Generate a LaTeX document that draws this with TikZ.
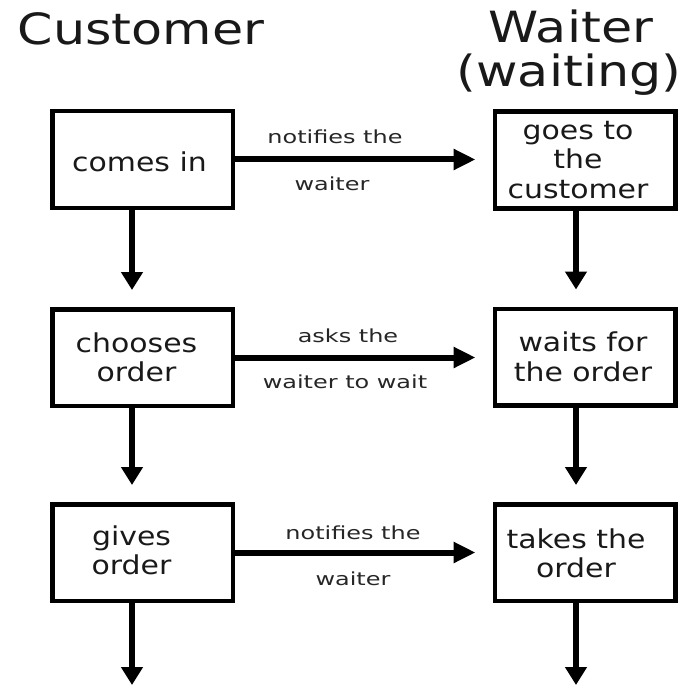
\documentclass[tikz,border=0pt]{standalone}
\usepackage{fontspec}
\setmainfont{DejaVu Sans}
\newfontfamily\titlefont[FakeStretch=1.18]{DejaVu Sans}
\newfontfamily\boxfont[FakeStretch=1.15]{DejaVu Sans}
\newfontfamily\labfont[FakeStretch=1.33]{DejaVu Sans}
\usetikzlibrary{arrows.meta}
\tikzset{
  stepbox/.style={draw=black, line width=4.5pt, minimum width=180.5pt, minimum height=96.5pt,
    inner sep=0pt},
  boxtext/.style={inner sep=0pt, align=center, font=\boxfont\fontsize{26}{29.5}\selectfont, text=black!90},
  titletext/.style={anchor=base, inner sep=0pt, font=\titlefont\fontsize{43}{50}\selectfont, text=black!90},
  labtext/.style={anchor=base, inner sep=0pt, font=\labfont\fontsize{18}{21}\selectfont, text=black!85},
  flowh/.style={line width=6pt, -{Triangle[length=22pt,width=20pt]}, shorten >=17pt},
  flowv/.style={line width=6pt, -{Triangle[length=18pt,width=21pt]}, shorten >=17pt},
}
\begin{document}
\begin{tikzpicture}[x=1pt,y=-1pt]
\useasboundingbox (0,0) rectangle (685,687);
% titles
\node[titletext] (tcust) at (141,45) {Customer};
\node[titletext] (twait) at (571,43) {Waiter};
\node[titletext] (twaiting) at (569,87) {(waiting)};
% boxes
\node[stepbox] (L1) at (142.5,159.5) {};
\node[stepbox] (R1) at (585,160) {};
\node[stepbox] (L2) at (142.5,357.5) {};
\node[stepbox] (R2) at (585,357) {};
\node[stepbox] (L3) at (142.5,552.5) {};
\node[stepbox] (R3) at (585,552.5) {};
% box texts
\node[boxtext] (L1t) at ([xshift=-3pt,yshift=-2pt]L1) {comes in};
\node[boxtext] (R1t) at ([xshift=-7pt]R1) {goes to\\the\\customer};
\node[boxtext] (L2t) at ([xshift=-6pt]L2) {chooses\\order};
\node[boxtext] (R2t) at ([xshift=-2pt]R2) {waits for\\the order};
\node[boxtext] (L3t) at ([xshift=-11pt,yshift=2pt]L3) {gives\\order};
\node[boxtext] (R3t) at ([xshift=-9pt,yshift=-1pt]R3) {takes the\\order};
% horizontal arrows
\draw[flowh] (L1.east) -- (L1.east -| R1.west);
\draw[flowh] (L2.east) -- (L2.east -| R2.west);
\draw[flowh] (L3.east) -- (L3.east -| R3.west);
% labels
\node[labtext] (a1) at (335,144) {notifies the};
\node[labtext] (b1) at (332,190) {waiter};
\node[labtext] (a2) at (348,342) {asks the};
\node[labtext] (b2) at (345,388) {waiter to wait};
\node[labtext] (a3) at (353,539) {notifies the};
\node[labtext] (b3) at (353,585) {waiter};
% vertical arrows
\coordinate (endL) at (132,685);
\coordinate (endR) at (576,685);
\draw[flowv] ([xshift=-10.5pt]L1.south) -- ([xshift=-10.5pt]L2.north);
\draw[flowv] ([xshift=-10.5pt]L2.south) -- ([xshift=-10.5pt]L3.north);
\draw[flowv, shorten >=0pt] ([xshift=-10.5pt]L3.south) -- (endL);
\draw[flowv] ([xshift=-9pt]R1.south) -- ([xshift=-9pt]R2.north);
\draw[flowv] ([xshift=-9pt]R2.south) -- ([xshift=-9pt]R3.north);
\draw[flowv, shorten >=0pt] ([xshift=-9pt]R3.south) -- (endR);
\end{tikzpicture}
\end{document}
